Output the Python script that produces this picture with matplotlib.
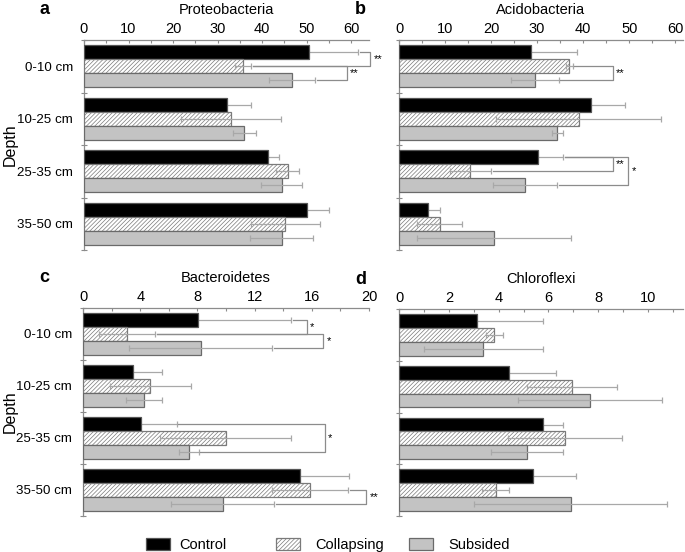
import matplotlib
matplotlib.use("Agg")
import matplotlib.pyplot as plt
from matplotlib.patches import Patch
import numpy as np

plt.rcParams['font.family'] = ['Liberation Sans', 'DejaVu Sans']
plt.rcParams['hatch.color'] = '#a5a5a5'
plt.rcParams['hatch.linewidth'] = 0.5

depths = ["0-10 cm", "10-25 cm", "25-35 cm", "35-50 cm"]
treatments = ["Control", "Collapsing", "Subsided"]

# values per treatment across depths
proteo_mean = {"Control": [50.6, 32.2, 41.4, 50.0],
               "Collapsing": [35.7, 33.0, 45.7, 45.2],
               "Subsided": [46.7, 36.0, 44.4, 44.4]}
proteo_err = {"Control": [11.0, 5.3, 2.5, 5.1],
              "Collapsing": [1.9, 11.2, 2.6, 7.7],
              "Subsided": [5.2, 2.6, 4.6, 7.1]}

acido_mean = {"Control": [28.6, 41.8, 30.2, 6.3],
              "Collapsing": [37.0, 39.0, 15.5, 8.8],
              "Subsided": [29.5, 34.4, 27.4, 20.6]}
acido_err = {"Control": [10.0, 7.2, 5.4, 2.6],
             "Collapsing": [0.7, 17.9, 4.5, 4.8],
             "Subsided": [5.2, 1.2, 7.0, 16.7]}

bacte_mean = {"Control": [8.06, 3.5, 4.04, 15.2],
              "Collapsing": [3.08, 4.72, 9.98, 15.9],
              "Subsided": [8.23, 4.28, 7.38, 9.77]}
bacte_err = {"Control": [6.5, 2.0, 2.5, 3.4],
             "Collapsing": [1.97, 2.8, 4.6, 2.65],
             "Subsided": [5.0, 1.24, 0.7, 3.6]}

chloro_mean = {"Control": [3.12, 4.4, 5.77, 5.39],
               "Collapsing": [3.83, 6.95, 6.67, 3.88],
               "Subsided": [3.39, 7.66, 5.14, 6.9]}
chloro_err = {"Control": [2.67, 1.92, 0.8, 1.7],
              "Collapsing": [0.35, 1.8, 2.3, 0.55],
              "Subsided": [2.4, 2.9, 1.45, 3.87]}

# significance brackets: (depth index, treatment i, treatment j, bracket x, label)
proteo_sig = [(0, 0, 1, 64.2, "**"), (0, 1, 2, 59.0, "**")]
acido_sig = [(0, 1, 2, 46.4, "**"), (2, 0, 1, 46.4, "**"), (2, 0, 2, 49.8, "*")]
bacte_sig = [(0, 0, 1, 15.65, "*"), (0, 1, 2, 16.8, "*"), (2, 0, 2, 16.9, "*"), (3, 1, 2, 19.8, "**")]
chloro_sig = []

panels = [
    ("a", "Proteobacteria", proteo_mean, proteo_err, proteo_sig, 64, 10, 5, True),
    ("b", "Acidobacteria", acido_mean, acido_err, acido_sig, 61.7, 10, 5, False),
    ("c", "Bacteroidetes", bacte_mean, bacte_err, bacte_sig, 20, 4, 2, True),
    ("d", "Chloroflexi", chloro_mean, chloro_err, chloro_sig, 11.4, 2, 1, False),
]

W, H = 685, 552
rects = [(84, 40, 369, 250), (399, 40, 683, 250), (83, 308, 369, 516), (399, 309, 683, 516)]

styles = {
    "Control": dict(facecolor="black", edgecolor="#555555", hatch=None),
    "Collapsing": dict(facecolor="white", edgecolor="#7a7a7a", hatch="////////"),
    "Subsided": dict(facecolor="#c3c3c3", edgecolor="#6a6a6a", hatch=None),
}

fig = plt.figure(figsize=(W / 100, H / 100), dpi=100)
bh = 0.8 / 3
offsets = [-bh, 0, bh]
spine_c = "#8c8c8c"
err_c = "#a8a8a8"

for (letter, title, mean, err, sig, xmax, major, minor, showlab), (l, t, r, b) in zip(panels, rects):
    ax = fig.add_axes([l / W, 1 - b / H, (r - l) / W, (b - t) / H])
    y = np.arange(len(depths))
    for k, tr in enumerate(treatments):
        st = styles[tr]
        yy = y + offsets[k]
        ax.barh(yy, mean[tr], height=bh, color=st["facecolor"], edgecolor=st["edgecolor"],
                hatch=st["hatch"], linewidth=0.9, zorder=3)
        ax.errorbar(mean[tr], yy, xerr=err[tr], fmt="none", ecolor=err_c, elinewidth=0.9,
                    capsize=2.2, capthick=0.9, zorder=2 if tr == "Control" else 4)
    # brackets
    for (d, i, j, bx, lab) in sig:
        ti, tj = treatments[i], treatments[j]
        yi, yj = d + offsets[i], d + offsets[j]
        gap = xmax * 0.006
        si = mean[ti][d] + err[ti][d] + gap
        sj = mean[tj][d] + err[tj][d] + gap
        ax.plot([si, bx, bx, sj], [yi, yi, yj, yj], color=spine_c, lw=0.9,
                clip_on=False, zorder=5)
        ax.text(bx + xmax * 0.012, (yi + yj) / 2, lab, fontsize=8, va="center",
                ha="left", clip_on=False)
    ax.set_xlim(0, xmax)
    ax.set_ylim(len(depths) - 0.5, -0.5)
    ax.xaxis.tick_top()
    ax.set_xticks(np.arange(0, xmax + 1e-6, major))
    ax.set_xticks(np.arange(minor, xmax, major), minor=True)
    ax.tick_params(axis="x", which="both", direction="in", length=2.5, width=0.8,
                   color=spine_c, labelsize=10.5, pad=3)
    ax.set_yticks(y)
    ax.set_yticks(np.arange(-0.5, len(depths), 1.0), minor=True)
    ax.tick_params(axis="y", which="major", length=0, labelsize=9.6, pad=8)
    ax.tick_params(axis="y", which="minor", direction="inout", length=4, width=0.8, color=spine_c)
    if showlab:
        ax.set_yticklabels(depths)
        fig.text(10 / W, 1 - ((t + b) / 2) / H, "Depth", fontsize=11.5, rotation=90,
                 ha="center", va="center")
    else:
        ax.set_yticklabels([])
    for s in ["right", "bottom"]:
        ax.spines[s].set_visible(False)
    for s in ["left", "top"]:
        ax.spines[s].set_color(spine_c)
        ax.spines[s].set_linewidth(0.9)
    ax.set_title(title, fontsize=10.5, pad=19)
    fig.text((l - 44) / W, 1 - (t - 30) / H, letter, fontsize=13, fontweight="bold",
             ha="left", va="center")

# legend
leg_pos = [148, 278, 411]
for tr, px in zip(treatments, leg_pos):
    st = styles[tr]
    h = Patch(facecolor=st["facecolor"], edgecolor=st["edgecolor"], hatch=st["hatch"], linewidth=0.9)
    lg = fig.legend([h], [tr], loc="center left", bbox_to_anchor=(px / W - 0.012, 1 - 545 / H),
                    frameon=False, fontsize=10.5, handlelength=1.7, handleheight=0.8,
                    handletextpad=0.6 if tr == "Control" else 1.0, borderaxespad=0)

fig.savefig("out.png", dpi=100)
